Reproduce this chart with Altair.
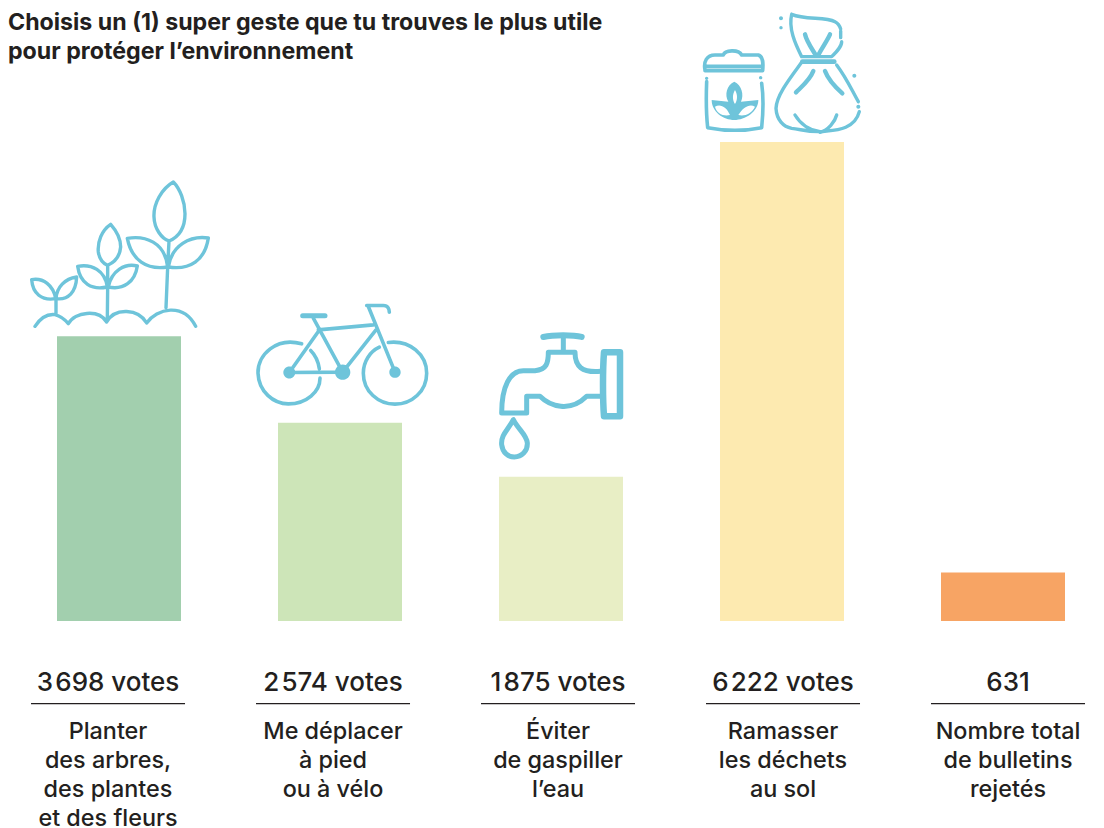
import re
import altair as alt
import pandas as pd

categories = ["Planter", "Déplacer", "Éviter", "Ramasser", "Rejetés"]
votes = [3698, 2574, 1875, 6222, 631]
vote_labels = ["3\u200a698 votes", "2\u200a574 votes", "1\u200a875 votes", "6\u200a222 votes", "631"]
descriptions = [
    "Planter\ndes arbres,\ndes plantes\net des fleurs",
    "Me déplacer\nà pied\nou à vélo",
    "Éviter\nde gaspiller\nl’eau",
    "Ramasser\nles déchets\nau sol",
    "Nombre total\nde bulletins\nrejetés",
]
bar_colors = ["#A2CFAE", "#CDE5B8", "#E8EEC5", "#FDEAB0", "#F7A464"]
title_lines = ["Choisis un (1) super geste que tu trouves le plus utile",
               "pour protéger l’environnement"]

FONT = "Inter"
INK = "#231F20"
ICON = "#6EC4DA"

df = pd.DataFrame({"cat": categories, "votes": votes, "label": vote_labels,
                   "desc": descriptions, "zero": [0] * 5})

bar_x = alt.Scale(type="band", domain=categories, paddingInner=97 / 221,
                  paddingOuter=0.181, align=0.6125)
text_x = alt.Scale(type="point", domain=categories, padding=0.4178, align=0.532)
y_scale = alt.Scale(domain=[0, 6222], range=[613, 134])


def circle(cx, cy, r):
    k = r * 0.5523
    return (f"M{cx - r} {cy} C{cx - r} {cy - k} {cx - k} {cy - r} {cx} {cy - r} "
            f"C{cx + k} {cy - r} {cx + r} {cy - k} {cx + r} {cy} "
            f"C{cx + r} {cy + k} {cx + k} {cy + r} {cx} {cy + r} "
            f"C{cx - k} {cy + r} {cx - r} {cy + k} {cx - r} {cy} Z ")


def place(d, ox, oy, ax, ay):
    state = {"i": 0}

    def sub(m):
        v = float(m.group(0)) / 3
        v = v + ox - ax if state["i"] % 2 == 0 else v + oy - ay
        state["i"] += 1
        return f"{v:.2f}"

    return re.sub(r"-?\d+\.?\d*", sub, d)


# Icon outlines (drawn around the top-centre of each bar)
plants = (
    "M460 35 C425 55 400 100 402 140 C403 175 425 205 447 212 C475 200 495 175 495 130 C495 95 480 55 460 35 Z "
    "M447 212 L443 290 L438 412 "
    "M322 204 C375 195 435 215 443 290 C380 300 335 270 322 204 Z "
    "M565 203 C510 195 455 225 445 290 C510 300 555 270 565 203 Z "
    "M272 162 C245 180 232 215 235 245 C238 265 250 280 263 285 C285 275 300 255 302 230 C302 205 288 180 272 162 Z "
    "M263 285 L263 350 L262 445 "
    "M173 288 C215 280 255 300 262 350 C215 360 180 340 173 288 Z "
    "M352 287 C315 278 275 300 265 350 C310 360 345 335 352 287 Z "
    "M35 328 C70 322 100 345 107 385 C65 392 38 370 35 328 Z "
    "M170 320 C135 325 110 350 108 385 C145 390 168 365 170 320 Z "
    "M108 385 L108 430 "
    "M45 468 C60 445 80 430 105 433 C120 437 135 448 145 460 C165 425 235 415 260 455 "
    "C285 410 355 415 380 458 C410 415 490 395 527 468"
)
bike = (
    "M845 522 C770 500 712 555 714 610 C716 665 760 702 805 702 C860 702 900 665 900 625 "
    "M1105 518 C1170 510 1220 555 1220 610 C1220 665 1175 703 1125 703 C1075 703 1030 665 1030 610 C1030 575 1050 545 1078 532 "
    "M872 542 C885 555 895 575 898 597 "
    "M808 608 L968 607 M880 445 L968 607 M895 485 L808 608 M895 480 L1060 465 M1068 480 L968 607 "
    "M1045 410 L1125 607 M1040 407 L1090 407 C1105 407 1108 420 1108 427"
)
bike_saddle = "M848 438 L915 438"
bike_hubs = circle(808, 608, 18) + circle(968, 607, 23) + circle(1125, 607, 17)
tap = (
    "M250 1012 L250 1055 "
    "M205 1058 L285 1058 C285 1100 305 1120 362 1115 "
    "M205 1058 C205 1090 200 1110 165 1113 L130 1113 C90 1113 65 1160 65 1240 L140 1240 L140 1190 "
    "L180 1190 C210 1220 270 1240 320 1190 L365 1190 "
    "M100 1260 C85 1290 62 1305 65 1335 C68 1360 85 1372 103 1372 C125 1372 143 1355 142 1330 C140 1305 115 1290 100 1260 Z"
)
tap_handle = "M190 1012 C220 1005 280 1005 305 1012"
tap_flange = "M372 1058 L420 1058 L420 1250 L372 1250 C368 1200 368 1110 372 1058 Z"

jar_lines = (
    "M30 195 C25 170 35 150 60 150 L85 150 C90 135 130 132 140 150 L190 150 C205 155 205 175 203 197 L30 197 Z "
    "M35 184 L200 184 "
    "M35 230 C33 280 35 340 38 368 C90 378 150 378 200 368 C205 320 205 270 200 235"
)
jar_plant = (
    "M118 230 C95 240 88 270 100 290 L50 285 C50 320 85 345 118 345 C150 345 190 320 190 285 L138 290 "
    "C148 270 140 240 118 230 Z"
)
jar_cutouts = (
    "M60 305 C75 295 95 305 105 330 C85 335 65 325 60 305 Z "
    "M180 305 C165 295 145 305 130 330 C150 335 170 325 180 305 Z "
    "M120 255 C112 268 112 285 120 297 C128 285 128 268 120 255 Z"
)
bag_lines = (
    "M290 28 C280 70 300 115 320 155 L410 155 C425 140 440 125 440 110 "
    "M290 28 C330 45 390 35 420 50 C430 55 435 65 437 72 M437 78 L437 98 "
    "M320 172 C285 220 245 270 243 310 C245 345 265 365 290 370 C320 373 350 385 395 378 "
    "C430 375 480 370 493 320 "
    "M425 180 C455 220 470 255 490 290 "
    "M300 330 C315 355 340 375 375 380 M425 330 C420 350 400 375 375 382"
)
bag_folds = (
    "M330 88 C335 110 350 130 362 150 M405 88 C395 110 380 130 370 150 "
    "M355 198 C345 225 320 245 303 262 M390 198 C400 225 425 250 442 265"
)
bag_knot = "M322 170 L418 170"
jar_bag_dots = (circle(258, 40, 6) + circle(258, 68, 5) + circle(478, 212, 6)
                + circle(490, 305, 6) + circle(35, 220, 5) + circle(197, 218, 5))

# cat, path, stroke width, fill colour, zoom origin, bar-top anchor in page pixels
icons = [
    ("Planter", plants, 3.4, None, (20, 170), (119, 336)),
    ("Déplacer", bike, 3.6, None, (20, 170), (340, 423)),
    ("Déplacer", bike_saddle, 5, None, (20, 170), (340, 423)),
    ("Déplacer", bike_hubs, 0, ICON, (20, 170), (340, 423)),
    ("Éviter", tap, 5, None, (480, 0), (561, 477)),
    ("Éviter", tap_handle, 6, None, (480, 0), (561, 477)),
    ("Éviter", tap_flange, 6.5, None, (480, 0), (561, 477)),
    ("Ramasser", jar_lines, 3.6, None, (695, 5), (782, 142)),
    ("Ramasser", jar_plant, 0, ICON, (695, 5), (782, 142)),
    ("Ramasser", jar_cutouts, 0, "#FFFFFF", (695, 5), (782, 142)),
    ("Ramasser", bag_lines, 3.4, None, (695, 5), (782, 142)),
    ("Ramasser", bag_folds, 4.4, None, (695, 5), (782, 142)),
    ("Ramasser", bag_knot, 4.6, None, (695, 5), (782, 142)),
    ("Ramasser", jar_bag_dots, 0, ICON, (695, 5), (782, 142)),
]

bars = alt.Chart(df).mark_bar().encode(
    x=alt.X("cat:N", scale=bar_x, axis=None, sort=categories),
    y=alt.Y("votes:Q", scale=y_scale, axis=None),
    color=alt.Color("cat:N", scale=alt.Scale(domain=categories, range=bar_colors), legend=None),
)

layers = [bars]
for cat, d, sw, fill, (ox, oy), (ax, ay) in icons:
    props = dict(shape=place(d, ox, oy, ax, ay), size=4, filled=fill is not None, opacity=1)
    if fill is not None:
        props.update(color=fill, strokeWidth=0)
    else:
        props.update(stroke=ICON, strokeWidth=sw, strokeCap="round", strokeJoin="round")
    layers.append(
        alt.Chart(df).transform_filter(alt.datum.cat == cat).mark_point(**props).encode(
            x=alt.X("cat:N", scale=bar_x, axis=None, sort=categories),
            y=alt.Y("votes:Q", scale=y_scale, axis=None),
        )
    )

x_text = alt.X("cat:N", scale=text_x, axis=None, sort=categories)
y_zero = alt.Y("zero:Q", scale=y_scale, axis=None)

vote_text = alt.Chart(df).mark_text(font=FONT, fontSize=26, fontWeight=500, color=INK, align="center",
                                    baseline="alphabetic", dy=70).encode(
    x=x_text, y=y_zero, text="label:N")
rules = alt.Chart(df).mark_tick(orient="horizontal", size=154, thickness=1.3, color=INK,
                                opacity=1, yOffset=82.6).encode(x=x_text, y=y_zero)
desc_text = alt.Chart(df).mark_text(font=FONT, fontSize=23.4, fontWeight=500, color=INK, align="center",
                                    baseline="alphabetic", dy=118, lineBreak="\n",
                                    lineHeight=29).encode(
    x=x_text, y=y_zero, text="desc:N")

layers += [vote_text, rules, desc_text]

chart = alt.layer(*layers).resolve_scale(x="independent", color="independent").properties(
    width=1088,
    height=820,
    padding=0,
    autosize=alt.AutoSizeParams(type="none"),
    title=alt.TitleParams(text=title_lines, anchor="start", frame="group", font=FONT,
                          fontSize=23.2, fontWeight=700, color=INK, lineHeight=28.5,
                          offset=-56, align="left"),
).configure_view(stroke=None)

chart.save("out.html", embed_options={"renderer": "svg", "actions": False})
